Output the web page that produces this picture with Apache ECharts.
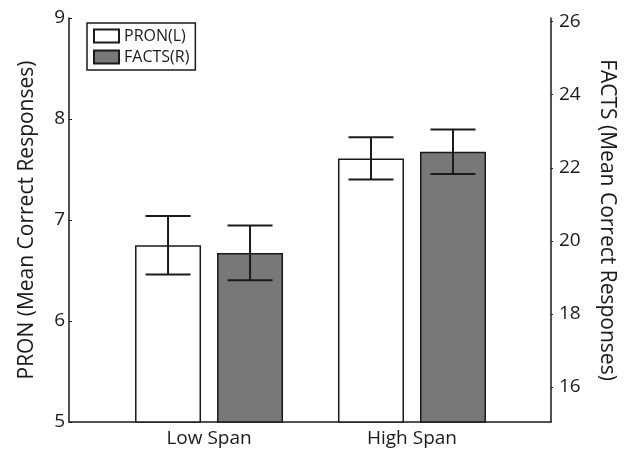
<!DOCTYPE html>
<html>
<head>
<meta charset="utf-8">
<script src="https://cdn.jsdelivr.net/npm/echarts@6/dist/echarts.min.js"></script>
<style>html,body{margin:0;padding:0;background:#fff}#c{width:627px;height:452px}</style>
</head>
<body>
<div id="c"></div>
<script>
const categories = ['Low Span', 'High Span'];
const categoryPositions = [1, 2];
const pronMean = [6.75, 7.61];
const pronErr = [0.29, 0.21];
const factsMean = [19.67, 22.44];
const factsErr = [0.75, 0.61];
const leftTicks = [5, 6, 7, 8, 9];
const rightTicks = [16, 18, 20, 22, 24, 26];

const FONT = 'Open Sans';
const TXT = '#1a1a1a';
const BAR_W = 66;
const GAP = 16;
const OFF = (BAR_W + GAP) / 2;

const chart = echarts.init(document.getElementById('c'));

function errItem(sign) {
  return function (params, api) {
    const x = api.value(0), m = api.value(1), e = api.value(2);
    const top = api.coord([x, m + e]);
    const bot = api.coord([x, m - e]);
    const cx = top[0] + sign * OFF;
    const hw = 22.5;
    const st = { stroke: TXT, lineWidth: 2 };
    return {
      type: 'group',
      children: [
        { type: 'line', shape: { x1: cx, y1: top[1], x2: cx, y2: bot[1] }, style: st },
        { type: 'line', shape: { x1: cx - hw, y1: top[1], x2: cx + hw, y2: top[1] }, style: st },
        { type: 'line', shape: { x1: cx - hw, y1: bot[1], x2: cx + hw, y2: bot[1] }, style: st }
      ]
    };
  };
}

chart.setOption({
  backgroundColor: '#fff',
  animation: false,
  grid: { left: 69, right: 76, top: 18, bottom: 30 },
  legend: {
    left: 87, top: 23,
    orient: 'vertical',
    data: ['PRON(L)', 'FACTS(R)'],
    icon: 'rect',
    itemWidth: 25, itemHeight: 13, itemGap: 5,
    padding: [5, 6, 5, 6],
    borderColor: TXT, borderWidth: 1.5,
    textStyle: { fontFamily: FONT, fontSize: 16, color: TXT }
  },
  xAxis: {
    type: 'value',
    min: 0.31, max: 2.685,
    splitLine: { show: false },
    axisLine: { show: true, lineStyle: { color: TXT, width: 1.5 } },
    axisTick: { show: false },
    axisLabel: {
      customValues: categoryPositions,
      formatter: v => categories[categoryPositions.indexOf(v)] || '',
      fontFamily: FONT, fontSize: 19, color: TXT, margin: 7
    }
  },
  yAxis: [
    {
      type: 'value', min: 5, max: 9, interval: 1,
      position: 'left',
      splitLine: { show: false },
      axisLine: { show: true, lineStyle: { color: TXT, width: 1.5 } },
      axisTick: { show: true, inside: true, length: 3, lineStyle: { color: TXT } },
      axisLabel: { fontFamily: FONT, fontSize: 19, color: TXT, margin: 4 },
      name: 'PRON (Mean Correct Responses)',
      nameLocation: 'middle', nameRotate: 90, nameGap: 31,
      nameTextStyle: { fontFamily: FONT, fontSize: 21, color: TXT }
    },
    {
      type: 'value', min: 15.04, max: 26.1,
      position: 'right',
      splitLine: { show: false },
      axisLine: { show: true, lineStyle: { color: TXT, width: 1.5 } },
      axisTick: { show: true, length: 2, customValues: rightTicks, lineStyle: { color: TXT } },
      axisLabel: { customValues: rightTicks, fontFamily: FONT, fontSize: 19, color: TXT, margin: 8 },
      name: 'FACTS (Mean Correct Responses)',
      nameLocation: 'middle', nameRotate: -90, nameGap: 45,
      nameTextStyle: { fontFamily: FONT, fontSize: 21, color: TXT }
    }
  ],
  series: [
    {
      name: 'PRON(L)', type: 'bar', yAxisIndex: 0,
      barWidth: BAR_W, barGap: (GAP / BAR_W * 100) + '%',
      itemStyle: { color: '#ffffff', borderColor: TXT, borderWidth: 1.5 },
      data: categoryPositions.map((x, i) => [x, pronMean[i]])
    },
    {
      name: 'FACTS(R)', type: 'bar', yAxisIndex: 1,
      barWidth: BAR_W, barGap: (GAP / BAR_W * 100) + '%',
      itemStyle: { color: '#787878', borderColor: TXT, borderWidth: 1.5 },
      data: categoryPositions.map((x, i) => [x, factsMean[i]])
    },
    {
      type: 'custom', yAxisIndex: 0, z: 5,
      renderItem: errItem(-1),
      data: categoryPositions.map((x, i) => [x, pronMean[i], pronErr[i]])
    },
    {
      type: 'custom', yAxisIndex: 1, z: 5,
      renderItem: errItem(1),
      data: categoryPositions.map((x, i) => [x, factsMean[i], factsErr[i]])
    }
  ]
});
</script>
</body>
</html>
